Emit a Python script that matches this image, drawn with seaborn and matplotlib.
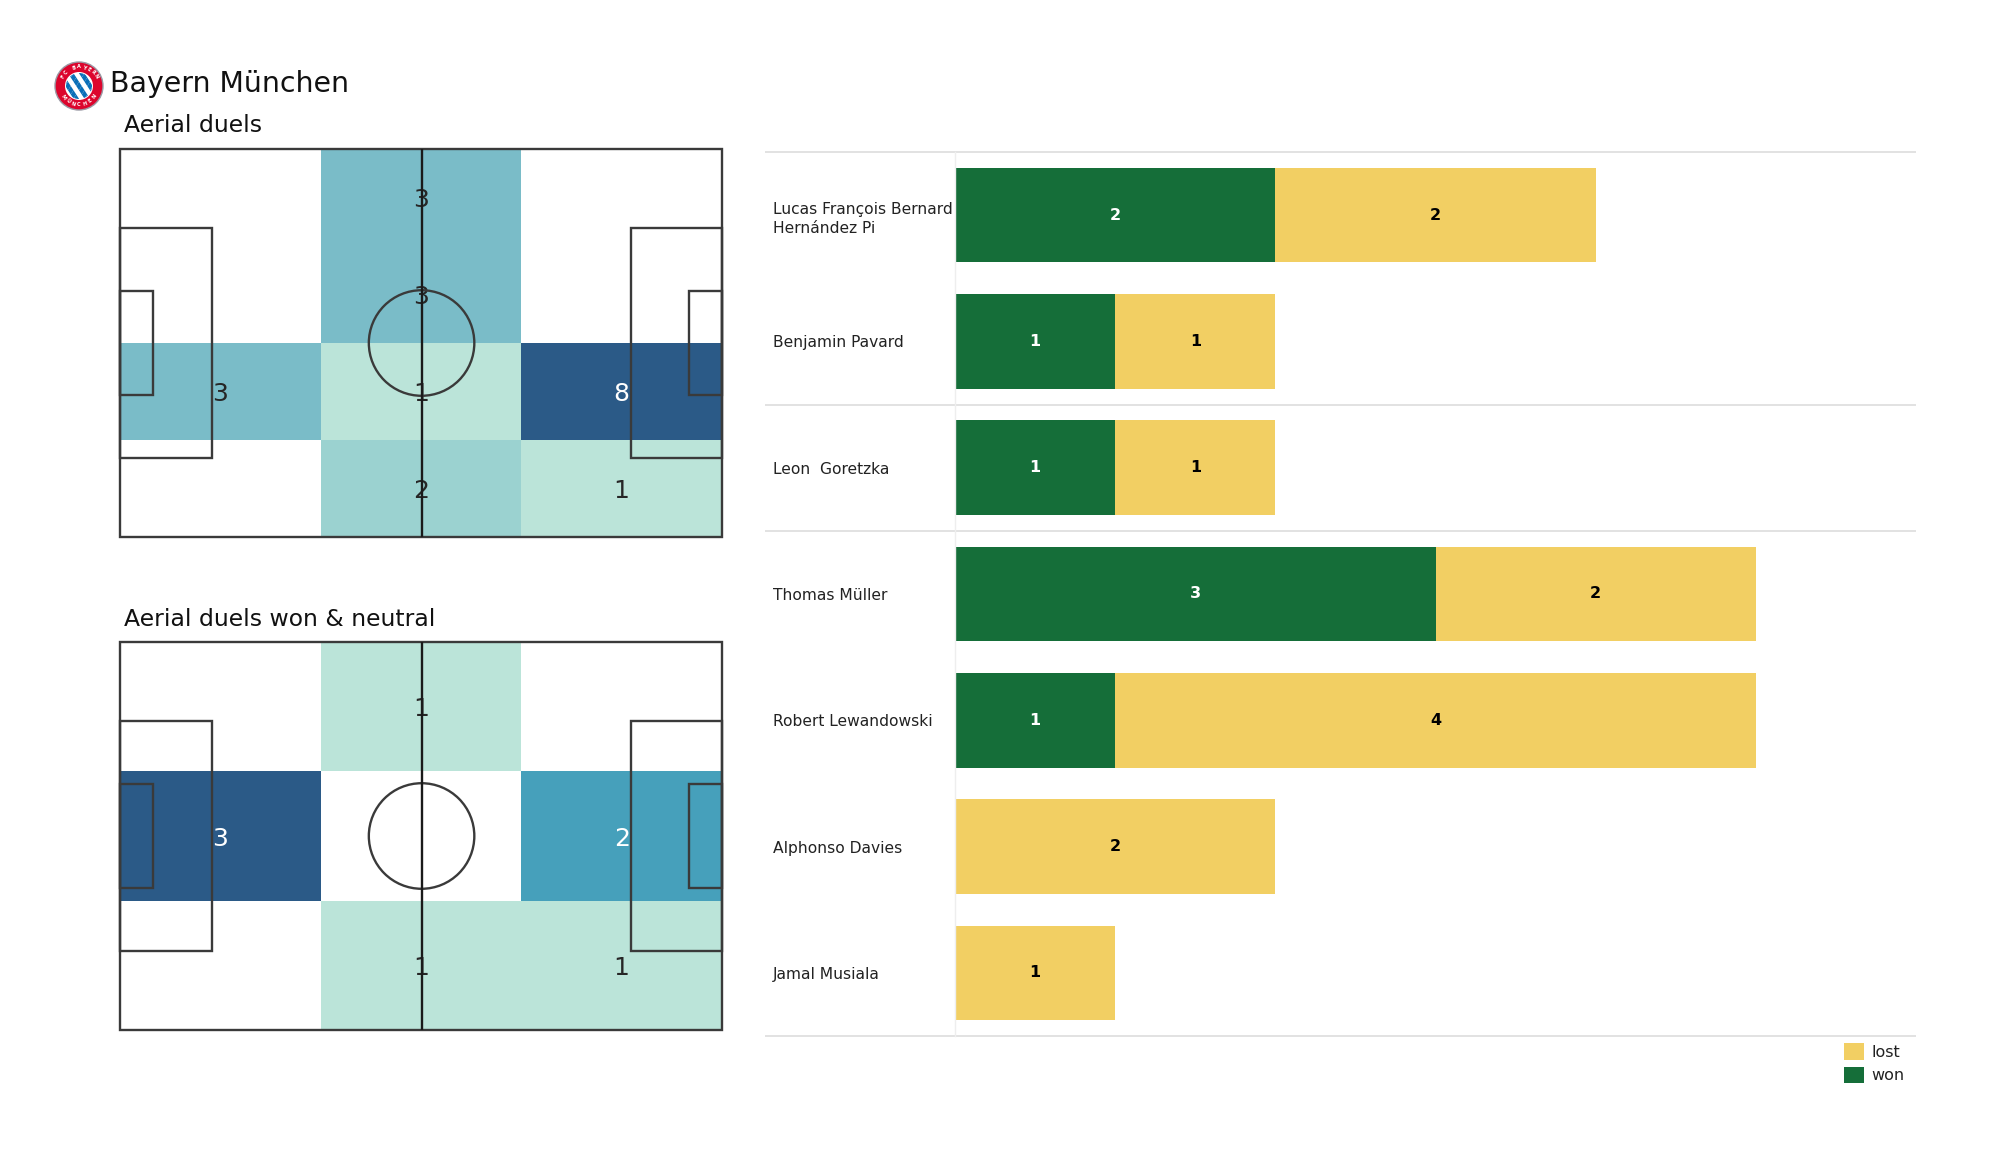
import numpy as np
import pandas as pd
import seaborn as sns
import matplotlib.pyplot as plt
from matplotlib.colors import LinearSegmentedColormap
from matplotlib.patches import Circle, Rectangle, Ellipse

# Data
team = 'Bayern München'
title_all = 'Aerial duels'
title_won = 'Aerial duels won & neutral'

duels_all = [[0, 3, 0],
             [0, 3, 0],
             [3, 1, 8],
             [0, 2, 1]]
duels_won = [[0, 1, 0],
             [3, 0, 2],
             [0, 1, 1]]

players = ['Lucas François Bernard\nHernández Pi', 'Benjamin Pavard', 'Leon  Goretzka',
           'Thomas Müller', 'Robert Lewandowski', 'Alphonso Davies', 'Jamal Musiala']
won = [2, 1, 1, 3, 1, 0, 0]
lost = [2, 1, 1, 2, 4, 2, 1]
group_lines = [-0.5, 1.5, 2.5, 6.5]

W, H = 2000, 1175
GREEN = '#156e39'
YELLOW = '#f2cf63'
LINE = '#3a3a3a'

sns.set_theme(style='white')
plt.rcParams['font.family'] = ['DejaVu Sans']

fig = plt.figure(figsize=(W / 100, H / 100), dpi=100)


def px_axes(x0, y0, x1, y1, **kw):
    # axes from pixel box, y counted from the top
    return fig.add_axes([x0 / W, 1 - y1 / H, (x1 - x0) / W, (y1 - y0) / H], **kw)


cmap = LinearSegmentedColormap.from_list('duels', [(0, '#bbe4d9'), (0.143, '#9bd2d0'), (0.286, '#7abcc8'),
                                                   (0.5, '#46a0bb'), (1, '#2b5a87')])


def pitch(box, values):
    ax = px_axes(*box)
    arr = np.array(values)
    sns.heatmap(arr, mask=arr == 0, cmap=cmap, vmin=1, vmax=arr.max(), annot=True, fmt='d', cbar=False,
                xticklabels=False, yticklabels=False, annot_kws={'size': 18, 'va': 'center_baseline'}, ax=ax)
    # pitch markings on top of the cells
    ov = px_axes(*box)
    ov.patch.set_alpha(0)
    ov.set_xlim(0, 105)
    ov.set_ylim(0, 68)
    ov.axis('off')
    kw = dict(fill=False, ec=LINE, lw=1.7, clip_on=False)
    ov.add_patch(Rectangle((0, 0), 105, 68, **kw))
    ov.add_patch(Rectangle((0, 13.85), 16, 40.3, **kw))
    ov.add_patch(Rectangle((89.2, 13.85), 15.8, 40.3, **kw))
    ov.add_patch(Rectangle((0, 24.85), 5.8, 18.3, **kw))
    ov.add_patch(Rectangle((99.2, 24.85), 5.8, 18.3, **kw))
    ov.add_patch(Ellipse((52.6, 34), 18.4, 18.5, **kw))
    ov.plot([52.6, 52.6], [0, 68], color='#1a1a1a', lw=1.7)


pitch((120, 149, 722, 537), duels_all)
pitch((120, 642, 722, 1030), duels_won)

# Logo
logo = px_axes(54, 61, 104, 111)
logo.set_xlim(-1, 1)
logo.set_ylim(-1, 1)
logo.set_aspect('equal')
logo.axis('off')
logo.add_patch(Circle((0, 0), 0.96, fc='#dc052d', ec='#9a9aa5', lw=1))
logo.add_patch(Circle((0, 0), 0.56, fc='white', ec='none'))
clip = Circle((0, 0), 0.52, transform=logo.transData)
for i in range(-8, 9):
    for j in range(-8, 9):
        if (i + j) % 2 == 0 and (i + j) % 4 == 0:
            cx, cy = i * 0.11, j * 0.17
            d = logo.fill([cx - 0.11, cx, cx + 0.11, cx], [cy, cy + 0.17, cy, cy - 0.17], color='#0a6fb8', lw=0)[0]
            d.set_clip_path(clip)
for text, start, stop, flip in [('FC BAYERN', 150, 30, 0), ('MÜNCHEN', 215, 325, 180)]:
    for ch, a in zip(text, np.linspace(start, stop, len(text))):
        logo.text(0.76 * np.cos(np.radians(a)), 0.76 * np.sin(np.radians(a)), ch, color='white', fontsize=3.6,
                  fontweight='bold', ha='center', va='center', rotation=a - 90 + flip)

fig.text(110 / W, 1 - 84 / H, team, fontsize=20.4, color='#111111', va='center', ha='left')
fig.text(124 / W, 1 - 126 / H, title_all, fontsize=16.9, color='#111111', va='center', ha='left')
fig.text(124 / W, 1 - 620 / H, title_won, fontsize=16.9, color='#111111', va='center', ha='left')

# Stacked bars: total behind, won on top
df = pd.DataFrame({'player': players, 'won': won, 'lost': lost})
df['total'] = df['won'] + df['lost']

ax = px_axes(955, 152, 1916, 1036)
sns.barplot(data=df, y='player', x='total', color=YELLOW, width=0.75, saturation=1, label='lost', linewidth=0, ax=ax)
sns.barplot(data=df, y='player', x='won', color=GREEN, width=0.75, saturation=1, label='won', linewidth=0, ax=ax)
ax.set_xlim(0, 6)
ax.set_ylim(6.5, -0.5)
ax.set_xlabel('')
ax.set_ylabel('')
ax.set_xticks([])
sns.despine(ax=ax, top=True, right=True, bottom=True, left=False)
ax.spines['left'].set_color('#eeeeee')
ax.spines['left'].set_linewidth(1)
ax.tick_params(axis='y', length=0, pad=131, labelsize=11.2, labelcolor='#222222')
for lab in ax.get_yticklabels():
    lab.set_ha('left')
    lab.set_linespacing(1.35)

for i in range(len(players)):
    if won[i] > 0:
        ax.text(won[i] / 2, i, str(won[i]), color='white', fontsize=11.5, fontweight='bold', ha='center', va='center')
    ax.text(won[i] + lost[i] / 2, i, str(lost[i]), color='black', fontsize=11.5, fontweight='bold', ha='center',
            va='center')

ax.hlines(group_lines, -190 / 961, 1, transform=ax.get_yaxis_transform(), color='#dddddd', lw=1.2, clip_on=False)

ax.legend(loc='upper left', bbox_to_anchor=(1830 / W, 1 - 1029 / H), bbox_transform=fig.transFigure, frameon=False,
          fontsize=11.5, handlelength=1.2, handleheight=1.2, handletextpad=0.5, labelspacing=0.42, borderpad=0.4,
          labelcolor='#222222')

fig.savefig('out.png', dpi=100)
